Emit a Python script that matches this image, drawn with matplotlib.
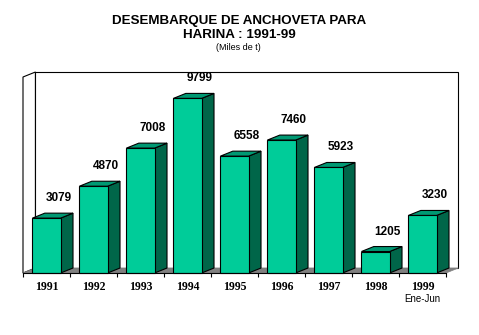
import matplotlib
matplotlib.use("Agg")
import matplotlib.pyplot as plt
from matplotlib.patches import Polygon

years = ["1991", "1992", "1993", "1994", "1995", "1996", "1997", "1998", "1999"]
landings = [3079, 4870, 7008, 9799, 6558, 7460, 5923, 1205, 3230]
note_1999 = "Ene-Jun"

title = "DESEMBARQUE DE ANCHOVETA PARA\nHARINA : 1991-99"
subtitle = "(Miles de t)"

FRONT = "#00cc99"
TOP = "#009973"
SIDE = "#006649"
FLOOR = "#808080"

# depth of the fake 3D effect, in data units
DX = 0.264
DY = 280
BAR_W = 0.6
YMAX = 11000

fig = plt.figure(figsize=(4.79, 3.35), dpi=100)
W, H = 479, 335
ax = fig.add_axes([23 / W, 62 / H, 423 / W, 196 / H])
n = len(years)
ax.set_xlim(-0.5, n - 0.5)
ax.set_ylim(0, YMAX)


def poly(pts, fc, ec="black", lw=0.8, z=1):
    ax.add_patch(Polygon(pts, closed=True, facecolor=fc, edgecolor=ec,
                         linewidth=lw, clip_on=False, zorder=z))


x0, x1 = -0.5, n - 0.5
# back wall and left wall
poly([(x0 + DX, DY), (x1 + DX, DY), (x1 + DX, YMAX + DY), (x0 + DX, YMAX + DY)], "white")
poly([(x0, 0), (x0 + DX, DY), (x0 + DX, YMAX + DY), (x0, YMAX)], "white")
# floor
poly([(x0, 0), (x1, 0), (x1 + DX, DY), (x0 + DX, DY)], FLOOR, ec=FLOOR, lw=0.5, z=2)

# bars
for i, v in enumerate(landings):
    a, b = i - BAR_W / 2, i + BAR_W / 2
    poly([(b, 0), (b + DX, DY), (b + DX, v + DY), (b, v)], SIDE, z=3)
    poly([(a, v), (b, v), (b + DX, v + DY), (a + DX, v + DY)], TOP, z=3)
    poly([(a, 0), (b, 0), (b, v), (a, v)], FRONT, z=4)
    ax.annotate(str(v), (i + DX, v + DY), xytext=(0, 6.5), textcoords="offset points",
                ha="center", va="bottom", fontsize=8.5, fontweight="bold",
                family="Liberation Sans")

for s in ["top", "left", "right"]:
    ax.spines[s].set_visible(False)
ax.spines["bottom"].set_linewidth(0.8)
ax.spines["bottom"].set_zorder(5)
ax.set_yticks([])
ax.set_xticks([i - 0.5 for i in range(n + 1)])
ax.set_xticklabels([])
ax.tick_params(axis="x", which="major", length=3, width=0.8, direction="out")
ax.set_xticks(range(n), minor=True)
ax.set_xticklabels(years, minor=True, fontsize=8.5, fontweight="bold",
                   family="Liberation Serif")
ax.tick_params(axis="x", which="minor", length=0, pad=5.5)
ax.annotate(note_1999, (n - 1, 0), xytext=(0, -18.5), textcoords="offset points",
            ha="center", va="center", fontsize=7, family="Liberation Sans")

fig.text(0.5, 1 - 28 / H, title, ha="center", va="center", fontsize=9.6,
         fontweight="bold", family="Liberation Sans", linespacing=1.15)
fig.text(0.497, 1 - 47.5 / H, subtitle, ha="center", va="center", fontsize=6.5,
         family="Liberation Sans")

fig.savefig("out.png", dpi=100)
